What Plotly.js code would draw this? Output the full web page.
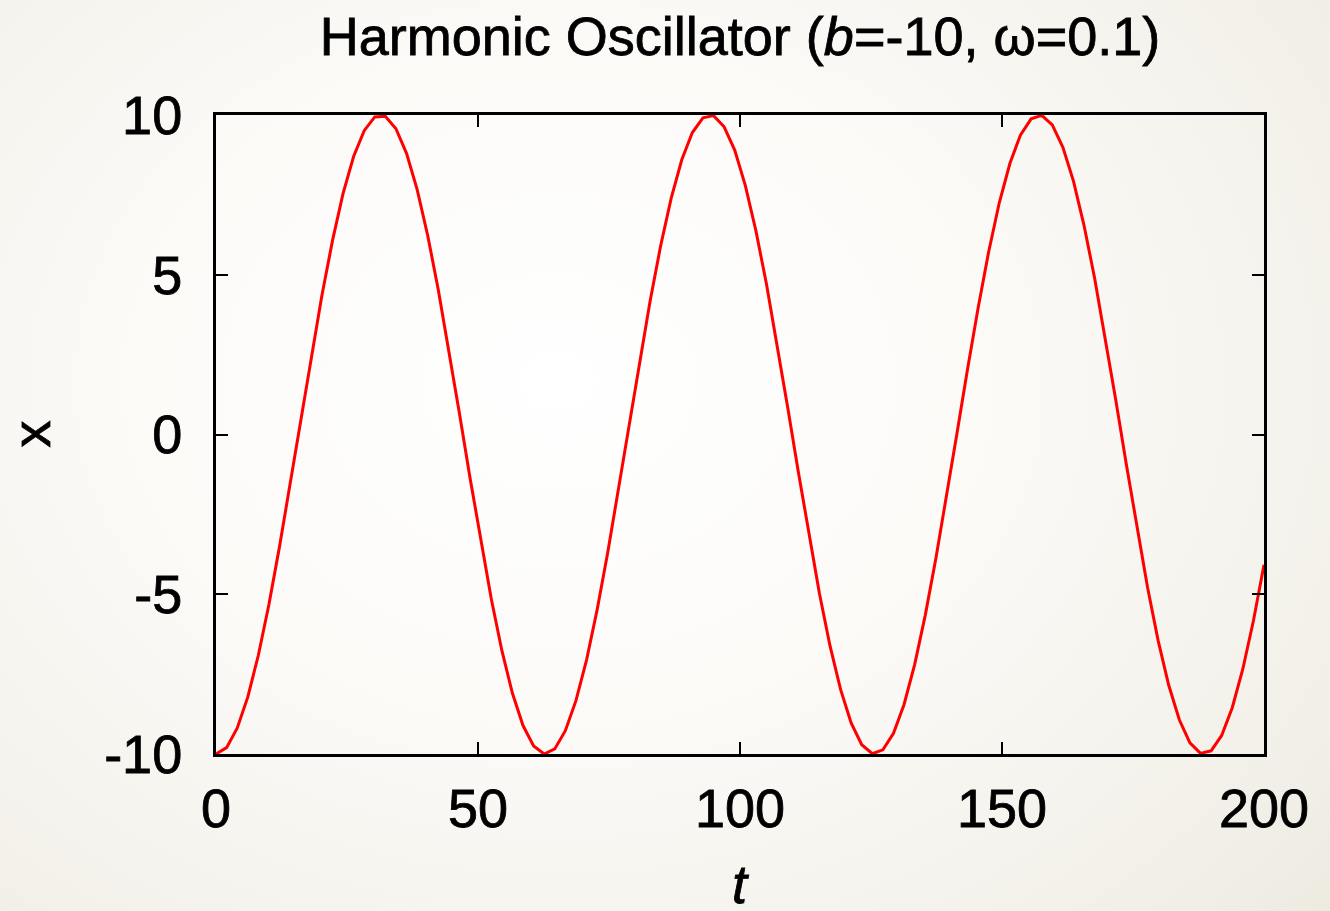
<!DOCTYPE html>
<html>
<head>
<meta charset="utf-8">
<script src="https://cdn.plot.ly/plotly-3.0.1.min.js"></script>
<style>
  html, body { margin:0; padding:0; width:1330px; height:911px; overflow:hidden; }
  body { background: radial-gradient(ellipse 95% 110% at 42% 42%, #ffffff 0%, #fbfaf7 35%, #f1efe7 70%, #e7e3d5 100%); }
  #chart { width:1330px; height:911px; }
  #chart svg text { stroke: #000000 !important; stroke-width: 0.8px !important; }
</style>
</head>
<body>
<div id="chart"></div>
<script>
// time samples (100 samples over [0, 200])
const tValues = [0, 2.02, 4.04, 6.06, 8.08, 10.10, 12.12, 14.14, 16.16, 18.18,
  20.20, 22.22, 24.24, 26.26, 28.28, 30.30, 32.32, 34.34, 36.36, 38.38,
  40.40, 42.42, 44.44, 46.46, 48.48, 50.51, 52.53, 54.55, 56.57, 58.59,
  60.61, 62.63, 64.65, 66.67, 68.69, 70.71, 72.73, 74.75, 76.77, 78.79,
  80.81, 82.83, 84.85, 86.87, 88.89, 90.91, 92.93, 94.95, 96.97, 98.99,
  101.01, 103.03, 105.05, 107.07, 109.09, 111.11, 113.13, 115.15, 117.17, 119.19,
  121.21, 123.23, 125.25, 127.27, 129.29, 131.31, 133.33, 135.35, 137.37, 139.39,
  141.41, 143.43, 145.45, 147.47, 149.49, 151.52, 153.54, 155.56, 157.58, 159.60,
  161.62, 163.64, 165.66, 167.68, 169.70, 171.72, 173.74, 175.76, 177.78, 179.80,
  181.82, 183.84, 185.86, 187.88, 189.90, 191.92, 193.94, 195.96, 197.98, 200];
// displacement x(t)
const xValues = [-10.00, -9.80, -9.19, -8.22, -6.91, -5.32, -3.51, -1.56, 0.45, 2.45,
  4.34, 6.06, 7.54, 8.70, 9.51, 9.94, 9.96, 9.57, 8.80, 7.67,
  6.23, 4.53, 2.65, 0.66, -1.36, -3.32, -5.14, -6.76, -8.10, -9.11,
  -9.75, -10.00, -9.84, -9.27, -8.33, -7.06, -5.49, -3.70, -1.76, 0.25,
  2.25, 4.16, 5.90, 7.40, 8.60, 9.45, 9.91, 9.98, 9.63, 8.90,
  7.80, 6.38, 4.71, 2.85, 0.86, -1.15, -3.12, -4.97, -6.61, -7.98,
  -9.03, -9.71, -9.99, -9.87, -9.35, -8.45, -7.20, -5.66, -3.89, -1.96,
  0.04, 2.05, 3.97, 5.73, 7.26, 8.49, 9.38, 9.88, 9.99, 9.69,
  8.99, 7.93, 6.54, 4.89, 3.04, 1.07, -0.95, -2.93, -4.79, -6.45,
  -7.85, -8.93, -9.65, -9.98, -9.90, -9.42, -8.55, -7.34, -5.83, -4.08];
const xTicks = [0, 50, 100, 150, 200];
const yTicks = [-10, -5, 0, 5, 10];
const titleText = 'Harmonic Oscillator (<i>b</i>=-10, ω=0.1)';
const xAxisTitle = '<i>t</i>';
const yAxisTitle = 'x';

const FONT = 'Liberation Sans, Arial, Helvetica, sans-serif';
const textFont = { family: FONT, size: 54, color: '#000000' };

const trace = {
  x: tValues, y: xValues, type: 'scatter', mode: 'lines',
  line: { color: '#ff0000', width: 3 },
  hoverinfo: 'skip', showlegend: false
};

const axisCommon = {
  showline: true, linecolor: '#000000', linewidth: 3, mirror: 'ticks',
  ticks: 'inside', ticklen: 12, tickwidth: 2, tickcolor: '#000000',
  showgrid: false, zeroline: false,
  tickfont: textFont,
  tickmode: 'array'
};

const layout = {
  width: 1330, height: 911,
  paper_bgcolor: 'rgba(0,0,0,0)', plot_bgcolor: 'rgba(0,0,0,0)',
  margin: { l: 216, r: 66, t: 115, b: 157 },
  title: {
    text: titleText, x: 0.5, xref: 'paper', xanchor: 'center',
    y: 0.96, yref: 'container', yanchor: 'middle',
    font: textFont
  },
  xaxis: Object.assign({}, axisCommon, {
    range: [0, 200], tickvals: xTicks, ticktext: xTicks.map(String),
    ticklabelstandoff: 5
  }),
  yaxis: Object.assign({}, axisCommon, {
    range: [-10, 10], tickvals: yTicks, ticktext: yTicks.map(String),
    ticklabelstandoff: 20
  }),
  annotations: [
    { text: xAxisTitle, xref: 'paper', yref: 'paper', x: 0.5, y: 0,
      xanchor: 'center', yanchor: 'middle', yshift: -130, showarrow: false, font: textFont },
    { text: yAxisTitle, xref: 'paper', yref: 'paper', x: 0, y: 0.5, textangle: -90,
      xanchor: 'center', yanchor: 'middle', xshift: -186, showarrow: false, font: textFont }
  ]
};

Plotly.newPlot('chart', [trace], layout, { staticPlot: true, displayModeBar: false });
</script>
</body>
</html>
